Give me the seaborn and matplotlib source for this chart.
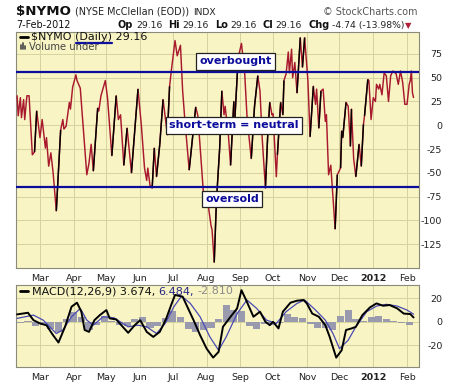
import numpy as np
import pandas as pd
import matplotlib
matplotlib.use("Agg")
import matplotlib.pyplot as plt
import matplotlib.dates as mdates
from matplotlib.collections import LineCollection
from matplotlib.lines import Line2D
import seaborn as sns

# ---------------- data ----------------
nymo_dates = [
    "2011-02-08", "2011-02-09", "2011-02-11", "2011-02-12", "2011-02-14", "2011-02-15", "2011-02-17",
    "2011-02-19", "2011-02-22", "2011-02-24", "2011-02-26", "2011-03-01", "2011-03-03", "2011-03-06",
    "2011-03-07", "2011-03-09", "2011-03-11", "2011-03-13", "2011-03-16", "2011-03-20", "2011-03-22",
    "2011-03-23", "2011-03-25", "2011-03-28", "2011-03-29", "2011-03-31", "2011-04-03", "2011-04-04",
    "2011-04-07", "2011-04-13", "2011-04-15", "2011-04-17", "2011-04-19", "2011-04-23", "2011-04-24",
    "2011-04-26", "2011-04-30", "2011-05-02", "2011-05-06", "2011-05-10", "2011-05-12", "2011-05-14",
    "2011-05-17", "2011-05-20", "2011-05-24", "2011-05-30", "2011-06-02", "2011-06-05", "2011-06-07",
    "2011-06-08", "2011-06-10", "2011-06-12", "2011-06-14", "2011-06-16", "2011-06-19", "2011-06-22",
    "2011-06-26", "2011-06-28", "2011-06-30", "2011-07-03", "2011-07-05", "2011-07-08", "2011-07-10",
    "2011-07-12", "2011-07-16", "2011-07-22", "2011-07-24", "2011-07-29", "2011-08-02", "2011-08-05",
    "2011-08-06", "2011-08-08", "2011-08-10", "2011-08-13", "2011-08-15", "2011-08-17", "2011-08-18",
    "2011-08-21", "2011-08-23", "2011-08-26", "2011-08-27", "2011-08-30", "2011-09-02", "2011-09-05",
    "2011-09-07", "2011-09-09", "2011-09-11", "2011-09-14", "2011-09-17", "2011-09-19", "2011-09-21",
    "2011-09-24", "2011-09-26", "2011-09-28", "2011-09-30", "2011-10-01", "2011-10-04", "2011-10-05",
    "2011-10-08", "2011-10-10", "2011-10-11", "2011-10-13", "2011-10-15", "2011-10-16", "2011-10-18",
    "2011-10-19", "2011-10-21", "2011-10-23", "2011-10-26", "2011-10-28", "2011-10-30", "2011-11-02",
    "2011-11-04", "2011-11-07", "2011-11-09", "2011-11-10", "2011-11-12", "2011-11-14", "2011-11-16",
    "2011-11-18", "2011-11-19", "2011-11-21", "2011-11-23", "2011-11-27", "2011-11-29", "2011-12-02",
    "2011-12-03", "2011-12-04", "2011-12-07", "2011-12-09", "2011-12-11", "2011-12-12", "2011-12-14",
    "2011-12-16", "2011-12-19", "2011-12-21", "2011-12-23", "2011-12-24", "2011-12-27", "2011-12-28",
    "2011-12-30", "2012-01-01", "2012-01-03", "2012-01-04", "2012-01-06", "2012-01-07", "2012-01-09",
    "2012-01-11", "2012-01-13", "2012-01-15", "2012-01-17", "2012-01-19", "2012-01-22", "2012-01-24",
    "2012-01-26", "2012-01-28", "2012-01-30", "2012-02-01", "2012-02-03", "2012-02-04", "2012-02-05",
    "2012-02-06", "2012-02-07",
]
nymo_values = [
    31, 10, 29, 8, 27, 6, 31,
    31, -31, -28, 15, -13, 6, -24,
    -13, -43, -29, -49, -90, -5, 6,
    -4, -1, 24, 17, 40, 53, 47,
    39, -52, -40, -20, -48, 18, 15,
    31, 47, 29, -32, 31, 6, 11,
    -42, -3, -50, 38, 1, -45, -58,
    -45, -63, -66, -24, -54, -20, 27,
    -10, 41, 61, 89, 73, 84, 36,
    6, -47, 19, 10, -70, -80, -105,
    -110, -144, -80, -24, 36, 11, 20,
    -10, -42, 25, 8, 71, 86, 54,
    11, -13, -35, 20, 52, 36, -13,
    -66, -13, 24, 11, 12, -54, -31,
    24, 11, 47, 54, 77, 55, 80,
    50, 66, 34, 92, 61, 92, 47,
    -12, 41, 22, 38, -3, 36, 38,
    4, 11, -52, -42, -109, -52, -45,
    -6, -13, 24, 20, -22, 17, -35,
    -54, -20, -43, 1, 10, 48, 47,
    6, 29, 25, 43, 38, 43, 32,
    55, 52, 25, 52, 57, 54, 43,
    57, 45, 22, 22, 43, 47, 57,
    34, 29.16,
]

macd_dates = [
    "2011-02-08", "2011-02-18", "2011-02-23", "2011-03-01", "2011-03-07", "2011-03-13", "2011-03-18",
    "2011-03-24", "2011-03-30", "2011-04-04", "2011-04-08", "2011-04-11", "2011-04-15", "2011-04-20",
    "2011-04-25", "2011-05-01", "2011-05-04", "2011-05-10", "2011-05-16", "2011-05-21", "2011-05-27",
    "2011-06-01", "2011-06-07", "2011-06-13", "2011-06-19", "2011-06-25", "2011-06-30", "2011-07-03",
    "2011-07-10", "2011-07-15", "2011-07-20", "2011-07-26", "2011-08-01", "2011-08-07", "2011-08-12",
    "2011-08-16", "2011-08-23", "2011-08-29", "2011-09-02", "2011-09-07", "2011-09-13", "2011-09-19",
    "2011-09-24", "2011-09-28", "2011-10-01", "2011-10-06", "2011-10-10", "2011-10-17", "2011-10-23",
    "2011-10-29", "2011-11-01", "2011-11-06", "2011-11-12", "2011-11-18", "2011-11-22", "2011-11-28",
    "2011-12-03", "2011-12-07", "2011-12-12", "2011-12-16", "2011-12-22", "2011-12-29", "2012-01-04",
    "2012-01-10", "2012-01-16", "2012-01-23", "2012-01-29", "2012-02-04", "2012-02-07",
]
macd_values = [
    6.3, 7.7, 1.4, -1.4, -3, -11.4, -17.7,
    -4.3, 12.9, 16.3, 8.6, -7, -8.6, 1.4,
    5.7, 10, 2.9, 2, -4.3, -9.4, -2.9,
    1.4, -8.6, -12.9, -8.6, 2.9, 15.7, 22.9,
    21.4, 11.4, 1.4, -11.4, -22.9, -30.6, -25.7,
    -4.3, 4.3, 11.4, 27, 17, 4.3, 8.6,
    0, -2.9, 0, -5.7, 8.6, 16.3, 18,
    18.6, 15.7, 7, 4.3, -2.9, -12.9, -30.6,
    -24.3, -7, -5.7, -4.3, 5.7, 12.3, 15.7,
    13.7, 14.3, 11.4, 7, 6.6, 3.674,
]

signal_dates = [
    "2011-02-08", "2011-02-23", "2011-03-04", "2011-03-16", "2011-03-22", "2011-03-30", "2011-04-07",
    "2011-04-13", "2011-04-19", "2011-04-28", "2011-05-08", "2011-05-21", "2011-05-30", "2011-06-07",
    "2011-06-16", "2011-06-24", "2011-07-02", "2011-07-09", "2011-07-17", "2011-07-26", "2011-08-04",
    "2011-08-12", "2011-08-19", "2011-08-29", "2011-09-07", "2011-09-16", "2011-09-25", "2011-10-04",
    "2011-10-13", "2011-10-23", "2011-10-30", "2011-11-09", "2011-11-18", "2011-11-25", "2011-12-01",
    "2011-12-09", "2011-12-16", "2011-12-26", "2012-01-04", "2012-01-13", "2012-01-23", "2012-02-01",
    "2012-02-07",
]
signal_values = [
    2.9, 5.7, 1.4, -10, -7, 4.3, 11.4,
    1.4, -2.9, 4.3, 3.4, -4.3, -2.9, -4.3,
    -10, -1.4, 12.9, 22, 15.7, 4.3, -12.9,
    -24.3, -12.9, 7, 18.6, 11.4, 1.4, -1.4,
    8.6, 15.7, 18.6, 10, 1.4, -10, -22.9,
    -15.7, -4.3, 8.6, 13.4, 14.9, 13.4, 10,
    6.484,
]

hist_start = "2011-02-11"   # weekly bars
hist_values = [
    -1, 1, -4, -3, -6, -9, 2, 8, 4, -7, -3, 5, 1,
    -3, -4, 2, 4, -5, -4, 3, 9, 4, -6, -9, -7, -5,
    2, 14, 10, 9, -4, -6, -2, -3, -1, 7, 4, 3, -2,
    -5, -5, -7, 5, 10, 2, 1, 4, 5, 2, 1, -1, -2.5,
]

month_ticks = ["2011-03-01", "2011-04-01", "2011-05-01", "2011-06-01", "2011-07-01", "2011-08-01",
               "2011-09-01", "2011-10-01", "2011-11-01", "2011-12-01", "2012-01-01", "2012-02-01"]
month_labels = ["Mar", "Apr", "May", "Jun", "Jul", "Aug", "Sep", "Oct", "Nov", "Dec", "2012", "Feb"]
upper_ticks = [75, 50, 25, 0, -25, -50, -75, -100, -125]
macd_ticks = [20, 0, -20]
overbought_level = 56
oversold_level = -65

# ---------------- style ----------------
sns.set_style("white")
plt.rcParams["font.family"] = ["DejaVu Sans"]

W, H = 460, 383
BG = "#f8f4c4"
GRID = "#d6d29e"
RED = "#a8192e"
BLUE = "#0c0c9c"
XMIN, XMAX = pd.Timestamp("2011-02-07"), pd.Timestamp("2012-02-12")

fig = plt.figure(figsize=(W / 100, H / 100), dpi=100, facecolor="white")


def fx(px):
    return px / W


def fy(py):
    return 1 - py / H


ax = fig.add_axes([fx(16), fy(268), fx(419) - fx(16), fy(32) - fy(268)])
ax2 = fig.add_axes([fx(16), fy(367), fx(419) - fx(16), fy(285) - fy(367)])

for a in (ax, ax2):
    a.set_facecolor(BG)
    a.set_axisbelow(True)
    a.grid(True, color=GRID, lw=0.7)
    for s in a.spines.values():
        s.set_color("#8a8a7a")
        s.set_linewidth(0.8)

# ---------------- main panel ----------------
df = pd.DataFrame({"date": pd.to_datetime(nymo_dates), "value": nymo_values})
sns.lineplot(data=df, x="date", y="value", ax=ax, color=RED, lw=1.05, zorder=3)
xnum = mdates.date2num(df["date"])
vals = np.asarray(nymo_values, dtype=float)
segs = [[(xnum[i], vals[i]), (xnum[i + 1], vals[i + 1])]
        for i in range(len(vals) - 1) if vals[i + 1] - vals[i] > 30]
ax.add_collection(LineCollection(segs, colors="black", linewidths=1.05, zorder=4))

ax.axhline(overbought_level, color=BLUE, lw=1.6, zorder=5)
ax.axhline(oversold_level, color=BLUE, lw=1.6, zorder=5)
ax.set_ylim(-150, 98)
ax.set_yticks(upper_ticks, labels=[str(t) for t in upper_ticks], ha="right")
ax.tick_params(axis="y", length=0, pad=16.5, labelsize=6.8, colors="#222222")

box = dict(boxstyle="square,pad=0.28", fc="white", ec="#222222", lw=0.9)
for txt, (bx, by) in [("overbought", (0.545, 0.875)),
                      ("short-term = neutral", (0.541, 0.604)),
                      ("oversold", (0.537, 0.292))]:
    ax.text(bx, by, txt, transform=ax.transAxes, ha="center", va="center", fontsize=8,
            fontweight="bold", color=BLUE, bbox=box, zorder=7)

# ---------------- MACD panel ----------------
hist_dates = pd.date_range(hist_start, periods=len(hist_values), freq="7D")
ax2.bar(hist_dates, hist_values, width=6.5, color="#9a9aae", edgecolor="none", linewidth=0,
        zorder=2)
sdf = pd.DataFrame({"date": pd.to_datetime(signal_dates), "value": signal_values})
mdf = pd.DataFrame({"date": pd.to_datetime(macd_dates), "value": macd_values})
sns.lineplot(data=sdf, x="date", y="value", ax=ax2, color="#4a4ab4", lw=0.9, zorder=3)
sns.lineplot(data=mdf, x="date", y="value", ax=ax2, color="black", lw=1.4, zorder=4)
ax2.set_ylim(-38.6, 31.4)
ax2.set_yticks(macd_ticks, labels=[str(t) for t in macd_ticks], ha="right")
ax2.tick_params(axis="y", length=0, pad=17, labelsize=6.8, colors="#222222")

for a in (ax, ax2):
    a.set_xlim(XMIN, XMAX)
    a.set_xticks(pd.to_datetime(month_ticks), labels=month_labels)
    a.tick_params(axis="x", length=0, pad=4, labelsize=6.8, colors="#222222")
    a.get_xticklabels()[10].set_fontweight("bold")
    a.yaxis.tick_right()
    a.set_xlabel("")
    a.set_ylabel("")

# ---------------- header / legends ----------------
renderer = fig.canvas.get_renderer()


def chain(x_px, y_px, pieces):
    x = x_px
    for s, size, weight, color, gap in pieces:
        t = fig.text(fx(x), fy(y_px), s, fontsize=size, fontweight=weight, color=color,
                     ha="left", va="baseline")
        x = x + t.get_window_extent(renderer=renderer).width + gap
    return x


chain(16, 15, [("$NYMO", 9.6, "bold", "#111111", 4),
               ("(NYSE McClellan (EOD))", 6.9, "normal", "#222222", 4),
               ("INDX", 6.6, "normal", "#222222", 0)])
fig.text(fx(418), fy(15), "\u00a9 StockCharts.com", fontsize=6.9, color="#555555",
         ha="right", va="baseline")

fig.text(fx(16), fy(28), "7-Feb-2012", fontsize=6.9, color="#111111", va="baseline")
chain(118, 28, [("Op", 7.0, "bold", "#111111", 2.5), ("29.16", 6.7, "normal", "#222222", 6),
                ("Hi", 7.0, "bold", "#111111", 2.5), ("29.16", 6.7, "normal", "#222222", 6),
                ("Lo", 7.0, "bold", "#111111", 2.5), ("29.16", 6.7, "normal", "#222222", 6),
                ("Cl", 7.0, "bold", "#111111", 2.5), ("29.16", 6.7, "normal", "#222222", 6),
                ("Chg", 7.0, "bold", "#111111", 2.5), ("-4.74 (-13.98%)", 6.7, "normal", "#222222", 1),
                ("\u25bc", 6.0, "normal", "#b0203a", 0)])

# main legend
fig.add_artist(Line2D([fx(20), fx(28)], [fy(37), fy(37)], color="black", lw=2))
fig.text(fx(31), fy(40.5), "$NYMO (Daily) 29.16", fontsize=8.0, color="#111111", va="baseline")
for i, hh in enumerate([4, 6, 3]):
    fig.add_artist(Line2D([fx(21 + 2 * i)] * 2, [fy(49), fy(49 - hh)], color="#444444", lw=1.2))
fig.text(fx(29), fy(49.5), "Volume under", fontsize=7.2, color="#444444", va="baseline")
fig.add_artist(Line2D([fx(76), fx(112)], [fy(42.7), fy(42.7)], color="#1010a0", lw=1.6))

# MACD legend
fig.add_artist(Line2D([fx(20), fx(28)], [fy(291), fy(291)], color="black", lw=2))
chain(32, 294.5, [("MACD(12,26,9) 3.674,", 8.0, "normal", "#111111", 3.5),
                  ("6.484,", 8.0, "normal", "#26268a", 3.5),
                  ("-2.810", 8.0, "normal", "#8a8a8a", 0)])

fig.savefig("out.png", dpi=100, facecolor="white")
